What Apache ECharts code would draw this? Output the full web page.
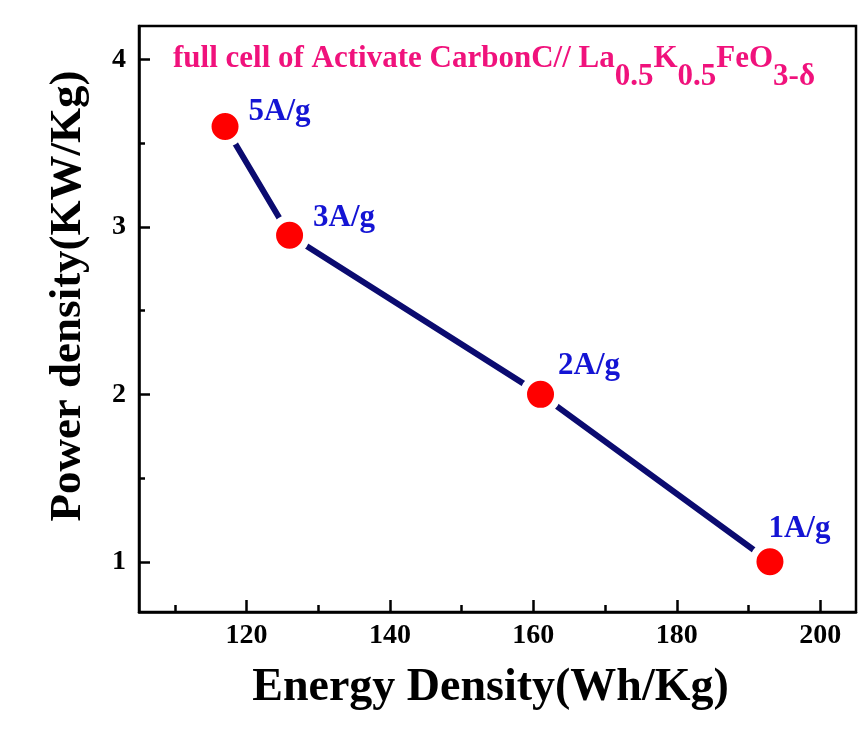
<!DOCTYPE html>
<html>
<head>
<meta charset="utf-8">
<script src="https://cdn.jsdelivr.net/npm/echarts@6/dist/echarts.min.js"></script>
<style>
html,body{margin:0;padding:0;background:#fff;}
#chart{width:864px;height:738px;}
</style>
</head>
<body>
<div id="chart"></div>
<script>
// ---- data ----
const currentLabels = ['5A/g', '3A/g', '2A/g', '1A/g'];
const energyDensity = [117, 126, 161, 193];   // Wh/Kg
const powerDensity  = [3.6, 2.95, 2.0, 1.0];  // KW/Kg
const xMajorTicks = [120, 140, 160, 180, 200];
const xMinorTicks = [110, 130, 150, 170, 190];
const yMajorTicks = [1, 2, 3, 4];
const yMinorTicks = [1.5, 2.5, 3.5];
const xRange = [105, 205];
const yRange = [0.7, 4.2];

// ---- styling ----
const FONT = '"Liberation Serif", "Times New Roman", serif';
const labelOffsets = [[-2, -14], [-2, -17], [-8, -28], [-27, -33]];

const chart = echarts.init(document.getElementById('chart'), null, {renderer: 'canvas'});

const seriesData = energyDensity.map((x, i) => ({
  value: [x, powerDensity[i]],
  label: {offset: labelOffsets[i]}
}));

const tickLabelStyle = {
  color: '#000', fontFamily: FONT, fontWeight: 'bold', fontSize: 28
};

const option = {
  backgroundColor: '#fff',
  animation: false,
  title: {
    left: 168,
    top: 38,
    text: '{a|full cell of Activate CarbonC// La}{s|0.5}{a|K}{s|0.5}{a|FeO}{s|3-δ}',
    textStyle: {
      rich: {
        a: {color: '#f0127c', fontFamily: FONT, fontWeight: 'bold', fontSize: 31, verticalAlign: 'top', lineHeight: 32},
        s: {color: '#f0127c', fontFamily: FONT, fontWeight: 'bold', fontSize: 31, verticalAlign: 'top', lineHeight: 32, padding: [18, 0, 0, 0]}
      }
    }
  },
  grid: {
    left: 139, right: 8, top: 26, bottom: 126,
    show: true, borderColor: '#000', borderWidth: 2.5, backgroundColor: 'transparent'
  },
  xAxis: [{
    type: 'value', min: xRange[0], max: xRange[1],
    name: 'Energy Density(Wh/Kg)', nameLocation: 'middle', nameGap: 53,
    nameTextStyle: {color: '#000', fontFamily: FONT, fontWeight: 'bold', fontSize: 46, padding: [0, 14, 0, 0]},
    axisLine: {show: true, lineStyle: {color: '#000', width: 2.5}},
    axisTick: {show: true, inside: true, length: 12, customValues: xMajorTicks, lineStyle: {color: '#000', width: 2.5}},
    axisLabel: Object.assign({show: true, margin: 10, customValues: xMajorTicks}, tickLabelStyle),
    splitLine: {show: false}
  }, {
    type: 'value', min: xRange[0], max: xRange[1], position: 'bottom',
    axisLine: {show: false},
    axisTick: {show: true, inside: true, length: 7, customValues: xMinorTicks, lineStyle: {color: '#000', width: 2.5}},
    axisLabel: {show: false},
    splitLine: {show: false}
  }],
  yAxis: [{
    type: 'value', min: yRange[0], max: yRange[1],
    name: 'Power density(KW/Kg)', nameLocation: 'middle', nameGap: 48, nameRotate: 90,
    nameTextStyle: {color: '#000', fontFamily: FONT, fontWeight: 'bold', fontSize: 45, padding: [0, 0, 0, 46]},
    axisLine: {show: true, lineStyle: {color: '#000', width: 2.5}},
    axisTick: {show: true, inside: true, length: 11, customValues: yMajorTicks, lineStyle: {color: '#000', width: 2.5}},
    axisLabel: Object.assign({show: true, margin: 13, customValues: yMajorTicks}, tickLabelStyle),
    splitLine: {show: false}
  }, {
    type: 'value', min: yRange[0], max: yRange[1], position: 'left',
    axisLine: {show: false},
    axisTick: {show: true, inside: true, length: 6, customValues: yMinorTicks, lineStyle: {color: '#000', width: 2.5}},
    axisLabel: {show: false},
    splitLine: {show: false}
  }],
  series: [{
    type: 'line',
    xAxisIndex: 0, yAxisIndex: 0,
    data: seriesData,
    symbol: 'circle',
    symbolSize: 34,
    lineStyle: {color: '#0b0b70', width: 6},
    itemStyle: {color: '#ff0000', borderColor: '#ffffff', borderWidth: 7},
    label: {
      show: true, position: 'right', distance: 5,
      formatter: p => currentLabels[p.dataIndex],
      color: '#1414d4', fontFamily: FONT, fontWeight: 'bold', fontSize: 31
    },
    emphasis: {disabled: true}
  }]
};

chart.setOption(option);
</script>
</body>
</html>
